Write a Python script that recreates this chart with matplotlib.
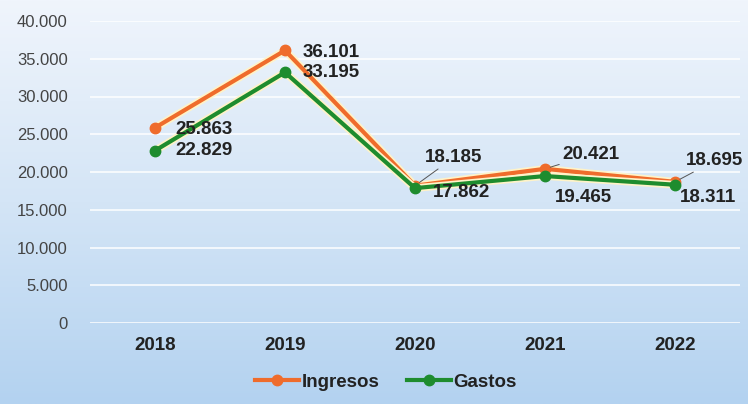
import matplotlib
matplotlib.use("Agg")
import matplotlib.pyplot as plt
import matplotlib.patheffects as pe
import numpy as np
from matplotlib.colors import LinearSegmentedColormap
from matplotlib.lines import Line2D

years = ["2018", "2019", "2020", "2021", "2022"]
ingresos = [25863, 36101, 18185, 20421, 18695]
gastos = [22829, 33195, 17862, 19465, 18311]
ing_labels = ["25.863", "36.101", "18.185", "20.421", "18.695"]
gas_labels = ["22.829", "33.195", "17.862", "19.465", "18.311"]
yticks = [0, 5000, 10000, 15000, 20000, 25000, 30000, 35000, 40000]
ytick_labels = ["0", "5.000", "10.000", "15.000", "20.000", "25.000", "30.000", "35.000", "40.000"]

plt.rcParams['font.family'] = ['Liberation Sans', 'DejaVu Sans']

fig = plt.figure(figsize=(7.48, 4.04), dpi=100)

# background gradient
bg = fig.add_axes([0, 0, 1, 1], zorder=0)
cmap = LinearSegmentedColormap.from_list("bg", ["#f0f5fc", "#d4e5f6", "#b3d2f0"])
grad = np.linspace(0, 1, 256).reshape(-1, 1)
bg.imshow(grad, aspect='auto', cmap=cmap, extent=[0, 1, 0, 1], origin='upper')
bg.set_axis_off()

ax = fig.add_axes([90/748, (404-323)/404, 650/748, (323-21)/404], zorder=1)
ax.patch.set_alpha(0)
x = np.arange(len(years))

orange = '#ef6c2c'
green = '#1e8c2e'
glow = [pe.Stroke(linewidth=5.5, foreground='#fff3c8'), pe.Normal()]
ax.plot(x, ingresos, color=orange, lw=3, path_effects=glow, zorder=4)
ax.plot(x, ingresos, ls='none', marker='o', ms=7.5, color=orange, mec=orange, zorder=4.5)
ax.plot(x, gastos, color=green, lw=3, path_effects=glow, zorder=5)
ax.plot(x, gastos, ls='none', marker='o', ms=7.5, color=green, mec=green, zorder=5.5)

ax.set_xlim(-0.5, 4.5)
ax.set_ylim(0, 40000)
ax.set_yticks(yticks)
ax.set_yticklabels(ytick_labels)
ax.set_xticks(x)
ax.set_xticklabels(years, fontweight='bold')
ax.grid(axis='y', color='white', lw=1.2, alpha=0.9)
ax.set_axisbelow(True)
for s in ax.spines.values():
    s.set_visible(False)
ax.tick_params(axis='y', length=0, labelsize=12, colors='#444444', pad=16)
ax.tick_params(axis='x', length=0, labelsize=13.5, colors='#222222', pad=10)

# data labels: offsets in pixels (dx, dy), leader flag
ing_off = [(20, -2), (18, -2), (10, 28), (17, 14), (11, 21)]
gas_off = [(20, 0), (18, 0), (18, -4), (10, -21), (5, -13)]
ing_leader = [False, False, True, True, True]
kw = dict(fontsize=13.5, fontweight='bold', color='#222222', va='center', ha='left',
          textcoords='offset pixels', zorder=6)
for i in range(len(years)):
    dx, dy = ing_off[i]
    if ing_leader[i]:
        ax.annotate(ing_labels[i], (x[i], ingresos[i]), xytext=(dx, dy),
                    arrowprops=dict(arrowstyle='-', color='#555555', lw=0.7,
                                    shrinkA=0, shrinkB=4), **kw)
    else:
        ax.annotate(ing_labels[i], (x[i], ingresos[i]), xytext=(dx, dy), **kw)
    dx, dy = gas_off[i]
    ax.annotate(gas_labels[i], (x[i], gastos[i]), xytext=(dx, dy), **kw)

handles = [Line2D([], [], color=orange, lw=3, marker='o', ms=7.5),
           Line2D([], [], color=green, lw=3, marker='o', ms=7.5)]
leg = fig.legend(handles, ['Ingresos', 'Gastos'], loc='center',
                 bbox_to_anchor=(386/748, 1 - 382/404), ncol=2,
                 frameon=False, handlelength=2.35, handletextpad=0.15, columnspacing=1.45,
                 prop={'weight': 'bold', 'size': 13.5})
for t in leg.get_texts():
    t.set_color('#222222')

fig.savefig("out.png", dpi=100)
